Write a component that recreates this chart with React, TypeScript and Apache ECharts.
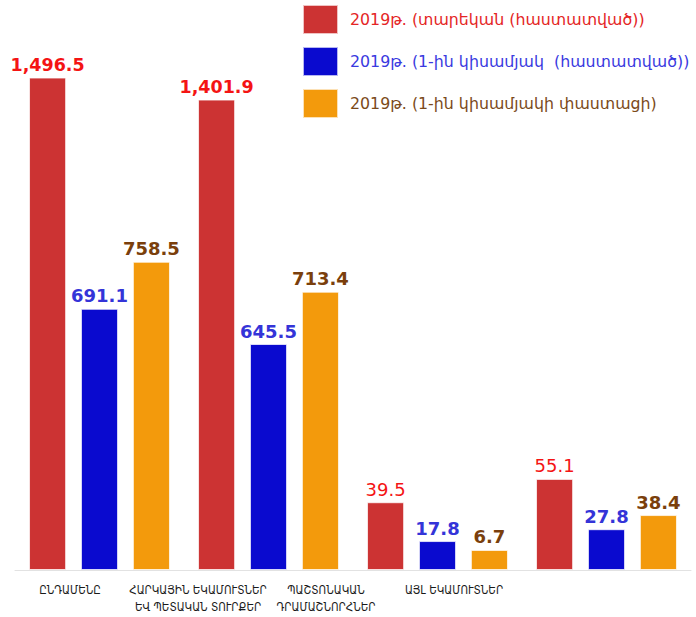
import React, { useEffect, useRef } from "react";
import * as echarts from "echarts";

const categories = [
  "ԸՆԴԱՄԵՆԸ",
  "ՀԱՐԿԱՅԻՆ ԵԿԱՄՈՒՏՆԵՐ\nԵՎ ՊԵՏԱԿԱՆ ՏՈՒՐՔԵՐ",
  "ՊԱՇՏՈՆԱԿԱՆ\nԴՐԱՄԱՇՆՈՐՀՆԵՐ",
  "ԱՅԼ ԵԿԱՄՈՒՏՆԵՐ",
];
const seriesNames = [
  "2019թ. (տարեկան (հաստատված))",
  "2019թ. (1-ին կիսամյակ  (հաստատված))",
  "2019թ. (1-ին կիսամյակի փաստացի)",
];
// Printed values (labels)
const annualValues = [1496.5, 1401.9, 39.5, 55.1];
const halfPlanValues = [691.1, 645.5, 17.8, 27.8];
const halfActualValues = [758.5, 713.4, 6.7, 38.4];
// Bar heights as drawn in the original picture (not to scale with the labels)
const annualDrawn = [1497, 1430, 206, 277];
const halfPlanDrawn = [794, 687, 88, 124];
const halfActualDrawn = [937, 846, 61, 167];

const FONT = "DejaVu Sans";
const fmt = (v: number) =>
  v.toLocaleString("en-US", { minimumFractionDigits: 1, maximumFractionDigits: 1 });

export default function App() {
  const ref = useRef<HTMLDivElement>(null);
  useEffect(() => {
    if (!ref.current) return;
    const chart = echarts.init(ref.current, null, { renderer: "svg" });
    const barColors = ["#cc3333", "#0a0acf", "#f39a0c"];
    const labelColors = ["#f41414", "#3434d8", "#7a3f0c"];
    const legendColors = ["#e42525", "#3a3ae0", "#7b4a1a"];
    const mk = (drawn: number[], values: number[], idx: number) => ({
      name: seriesNames[idx],
      type: "bar",
      xAxisIndex: 0,
      yAxisIndex: 0,
      barGap: "40%",
      barCategoryGap: "16.6%",
      itemStyle: { color: barColors[idx], borderColor: "rgba(255,255,255,0.7)", borderWidth: 1 },
      data: drawn.map((d, i) => ({
        value: d,
        label: {
          show: true,
          position: "top",
          distance: 4,
          formatter: fmt(values[i]),
          color: labelColors[idx],
          fontFamily: FONT,
          fontWeight: idx === 0 && i >= 2 ? "normal" : "bold",
          fontSize: idx === 0 && i < 2 ? 17.5 : 18,
        },
      })),
    });
    chart.setOption({
      animation: false,
      backgroundColor: "#ffffff",
      legend: {
        orient: "vertical",
        left: 302,
        top: 4,
        padding: 0,
        itemWidth: 35,
        itemHeight: 29,
        itemGap: 11,
        icon: "rect",
        textStyle: { fontFamily: FONT, fontSize: 15.8, padding: [0, 0, 0, 7] },
        data: seriesNames.map((n, i) => ({ name: n, textStyle: { color: legendColors[i] } })),
      },
      grid: [
        { left: 15, right: 5, top: 70, bottom: 47 },
        { left: 6, width: 512, top: 70, bottom: 47 },
      ],
      xAxis: [
        {
          type: "category",
          gridIndex: 0,
          data: categories,
          axisLine: { show: true, lineStyle: { color: "#e2e2e2" } },
          axisTick: { show: false },
          axisLabel: { show: false },
        },
        {
          type: "category",
          gridIndex: 1,
          data: categories,
          axisLine: { show: false },
          axisTick: { show: false },
          axisLabel: {
            interval: 0,
            margin: 11,
            fontFamily: "DejaVu Sans Condensed",
            fontSize: 11.5,
            lineHeight: 17,
            color: "#1a1a1a",
          },
        },
      ],
      yAxis: [
        { type: "value", gridIndex: 0, min: 0, max: 1520, show: false, splitLine: { show: false } },
        { type: "value", gridIndex: 1, min: 0, max: 1520, show: false, splitLine: { show: false } },
      ],
      series: [
        mk(annualDrawn, annualValues, 0),
        mk(halfPlanDrawn, halfPlanValues, 1),
        mk(halfActualDrawn, halfActualValues, 2),
      ],
    });
    return () => chart.dispose();
  }, []);
  return (
    <div
      ref={ref}
      style={{ position: "absolute", left: 0, top: 0, width: 696, height: 617 }}
    />
  );
}
